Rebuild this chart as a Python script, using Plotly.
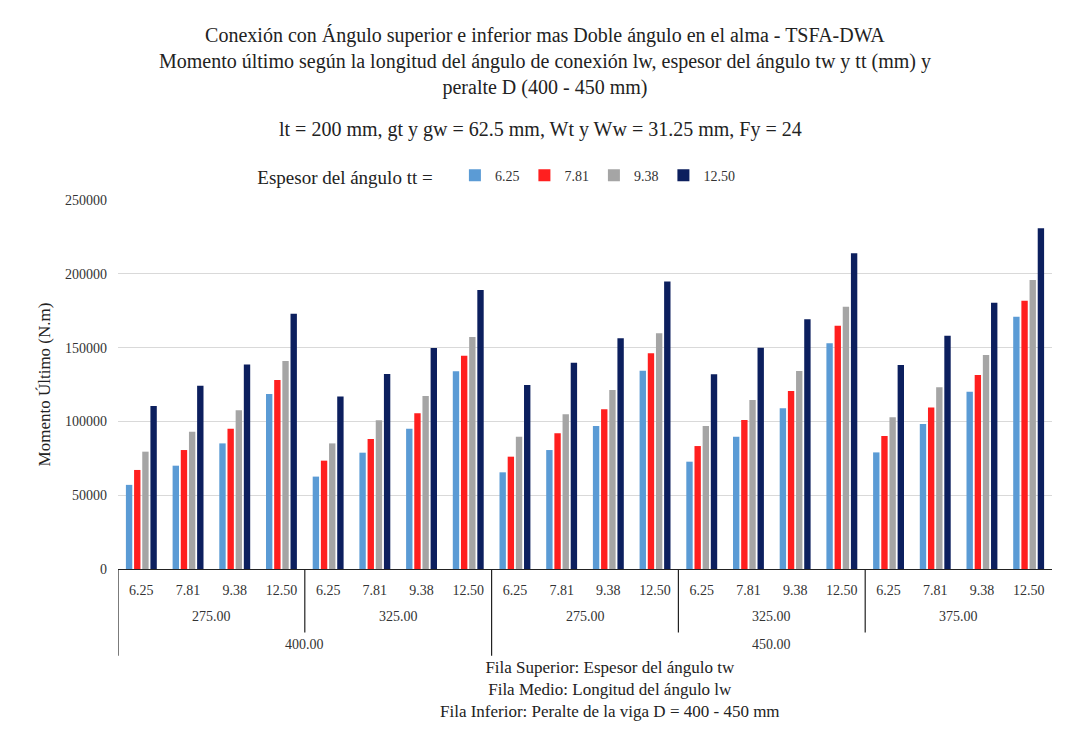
import plotly.graph_objects as go

# x axis levels
tw_labels = ["6.25", "7.81", "9.38", "12.50"]
lw_groups = ["275.00", "325.00", "275.00", "325.00", "375.00"]
d_groups = ["400.00", "400.00", "450.00", "450.00", "450.00"]

# Momento ultimo (N.m) for each tt
tt_625 = [57000, 70000, 85100, 118600, 62600, 78800, 95100, 133900, 65500, 80600,
          96900, 134400, 72700, 89600, 108900, 152900, 79000, 98200, 120100, 170900]
tt_781 = [67100, 80600, 95100, 128000, 73400, 88100, 105500, 144500, 76100, 91900,
          108200, 146100, 83300, 100900, 120600, 164800, 90100, 109500, 131400, 181800]
tt_938 = [79500, 93000, 107500, 140900, 85100, 100700, 117200, 157200, 89600, 104800,
          121300, 159700, 96900, 114500, 134100, 177700, 102800, 123100, 145000, 195800]
tt_1250 = [110400, 124200, 138600, 173000, 116800, 132100, 149700, 189000, 124700, 139800,
           156300, 194700, 131900, 149900, 169200, 213900, 138200, 158100, 180400, 230800]

series = [("6.25", tt_625, "#5B9BD5"), ("7.81", tt_781, "#FF1F1F"),
          ("9.38", tt_938, "#A5A5A5"), ("12.50", tt_1250, "#0C1F5E")]

n_tw = len(tw_labels)
xs = list(range(n_tw * len(lw_groups)))
ticktext = tw_labels * len(lw_groups)

serif = "Liberation Serif"

fig = go.Figure()
for name, vals, col in series:
    fig.add_trace(go.Bar(x=xs, y=vals, name=name, marker=dict(color=col, line=dict(width=0))))

shapes = []
annotations = []
# lw level separators and labels
for g, lw in enumerate(lw_groups):
    x0 = g * n_tw - 0.5
    x1 = x0 + n_tw
    annotations.append(dict(x=(x0 + x1) / 2, y=-0.128, xref="x", yref="paper", text=lw,
                            yanchor="middle", showarrow=False,
                            font=dict(family=serif, size=14, color="#333")))
    if g > 0 and d_groups[g] == d_groups[g - 1]:
        shapes.append(dict(type="line", x0=x0, x1=x0, y0=0, y1=-0.172, xref="x", yref="paper",
                           line=dict(color="#222", width=1.2)))
# D level separators and labels
starts = [g for g in range(len(d_groups)) if g == 0 or d_groups[g] != d_groups[g - 1]]
for k, g0 in enumerate(starts):
    g1 = starts[k + 1] if k + 1 < len(starts) else len(d_groups)
    x0 = g0 * n_tw - 0.5
    x1 = g1 * n_tw - 0.5
    annotations.append(dict(x=(x0 + x1) / 2, y=-0.205, xref="x", yref="paper", text=d_groups[g0],
                            yanchor="middle", showarrow=False,
                            font=dict(family=serif, size=14, color="#333")))
    shapes.append(dict(type="line", x0=x0, x1=x0, y0=0, y1=-0.235, xref="x", yref="paper",
                       line=dict(color="#222", width=1.2)))

annotations.append(dict(x=0.527, y=-0.327, xref="paper", yref="paper", showarrow=False,
                        xanchor="center", yanchor="middle",
                        text="Fila Superior: Espesor del ángulo tw<br>Fila Medio: Longitud del ángulo lw"
                             "<br>Fila Inferior: Peralte de la viga D = 400 - 450 mm",
                        font=dict(family=serif, size=17, color="#222")))
annotations.append(dict(x=0.452, y=1.192, xref="paper", yref="paper", showarrow=False,
                        xanchor="center", yanchor="middle",
                        text="lt = 200 mm, gt y gw = 62.5 mm, Wt y Ww = 31.25 mm, Fy = 24",
                        font=dict(family=serif, size=20, color="#222")))

fig.update_layout(
    width=1057, height=730,
    paper_bgcolor="white", plot_bgcolor="white",
    margin=dict(l=110, r=13, t=192, b=169),
    title=dict(text="Conexión con Ángulo superior e inferior mas Doble ángulo en el alma - TSFA-DWA<br>"
                    "Momento último según la longitud del ángulo de conexión lw, espesor del ángulo tw y tt (mm) y<br>"
                    "peralte D (400 - 450 mm)",
               x=0.508, xanchor="center", y=0.954, yanchor="top",
               font=dict(family=serif, size=20, color="#222")),
    barmode="group", bargap=0.3, bargroupgap=0.22,
    legend=dict(orientation="h", x=0.147, y=1.062, xanchor="left", yanchor="middle",
                title=dict(text="Espesor del ángulo tt =   ", font=dict(family=serif, size=19, color="#222")),
                font=dict(family=serif, size=14, color="#333"), itemwidth=30, tracegroupgap=0),
    xaxis=dict(tickmode="array", tickvals=xs, ticktext=ticktext, range=[-0.5, len(xs) - 0.5],
               showline=True, linecolor="#222", linewidth=1.2, ticks="", ticklabelstandoff=8,
               tickfont=dict(family=serif, size=14, color="#333"), showgrid=False),
    yaxis=dict(range=[0, 250000], dtick=50000, tickformat="d", showgrid=True, gridcolor="#D9D9D9",
               zeroline=False, ticklabelstandoff=10, tickfont=dict(family=serif, size=14, color="#333"),
               title=dict(text="Momento Último (N.m)", standoff=10,
                          font=dict(family=serif, size=17, color="#222"))),
    shapes=shapes, annotations=annotations,
)

fig.write_html("out.html")
